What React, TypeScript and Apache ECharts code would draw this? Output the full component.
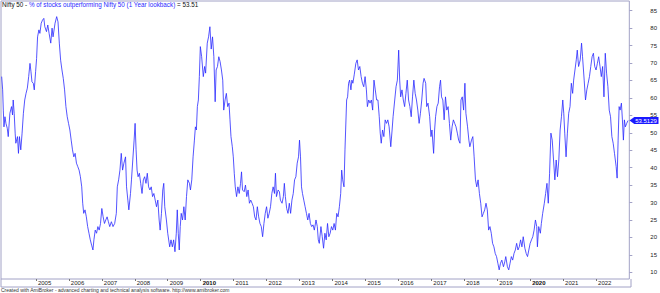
import React, { useEffect, useRef } from "react";
import * as echarts from "echarts";

// decimal-year dates and % of stocks outperforming Nifty 50 (1 year lookback)
const dates: number[] = [
  2003.96, 2003.99, 2004.01, 2004.03, 2004.06, 2004.09, 2004.13, 2004.16, 2004.21, 2004.26,
  2004.29, 2004.31, 2004.34, 2004.37, 2004.39, 2004.44, 2004.47, 2004.5, 2004.54, 2004.58,
  2004.62, 2004.66, 2004.7, 2004.74, 2004.78, 2004.82, 2004.85, 2004.88, 2004.92, 2004.95,
  2004.99, 2005.02, 2005.05, 2005.09, 2005.12, 2005.16, 2005.2, 2005.24, 2005.27, 2005.32,
  2005.36, 2005.4, 2005.45, 2005.49, 2005.52, 2005.58, 2005.63, 2005.67, 2005.71, 2005.75,
  2005.79, 2005.83, 2005.87, 2005.91, 2005.95, 2005.99, 2006.03, 2006.07, 2006.11, 2006.15,
  2006.19, 2006.23, 2006.27, 2006.31, 2006.35, 2006.39, 2006.42, 2006.45, 2006.49, 2006.53,
  2006.57, 2006.61, 2006.65, 2006.69, 2006.73, 2006.76, 2006.8, 2006.84, 2006.88, 2006.92,
  2006.96, 2007.0, 2007.04, 2007.08, 2007.12, 2007.16, 2007.2, 2007.24,
  2007.29, 2007.34, 2007.39, 2007.44, 2007.47, 2007.51, 2007.55, 2007.59, 2007.63, 2007.67,
  2007.72, 2007.75, 2007.79, 2007.82, 2007.87, 2007.9, 2007.94, 2007.98, 2008.01, 2008.04,
  2008.07, 2008.1, 2008.14, 2008.18, 2008.22, 2008.26, 2008.3, 2008.34, 2008.38, 2008.42,
  2008.46, 2008.5, 2008.54, 2008.58, 2008.62, 2008.66, 2008.7, 2008.74, 2008.77, 2008.81,
  2008.85, 2008.88, 2008.91, 2008.96, 2009.0, 2009.06, 2009.1, 2009.14, 2009.18, 2009.22,
  2009.26, 2009.29, 2009.32, 2009.35, 2009.38, 2009.41, 2009.45, 2009.49, 2009.53, 2009.57,
  2009.61, 2009.66, 2009.69, 2009.73, 2009.77, 2009.81, 2009.84, 2009.87, 2009.9, 2009.93,
  2009.96, 2009.99, 2010.03, 2010.08, 2010.12, 2010.15, 2010.2, 2010.24, 2010.28, 2010.32,
  2010.36, 2010.4, 2010.44, 2010.47, 2010.51, 2010.55, 2010.59, 2010.63, 2010.67, 2010.7,
  2010.74, 2010.78, 2010.82, 2010.86, 2010.89, 2010.92, 2010.96, 2010.99, 2011.02, 2011.05,
  2011.09, 2011.13, 2011.17, 2011.21, 2011.24, 2011.27, 2011.32, 2011.36, 2011.4, 2011.44,
  2011.48, 2011.52, 2011.56, 2011.6, 2011.64, 2011.68, 2011.72, 2011.76, 2011.8, 2011.84,
  2011.88, 2011.92, 2011.96, 2012.0, 2012.04, 2012.08, 2012.12, 2012.16, 2012.2, 2012.24,
  2012.27, 2012.3, 2012.35, 2012.39, 2012.42, 2012.47, 2012.51, 2012.54, 2012.57, 2012.61,
  2012.65, 2012.69, 2012.73, 2012.77, 2012.81, 2012.85, 2012.89, 2012.93, 2012.97, 2013.0,
  2013.03, 2013.06, 2013.09, 2013.13, 2013.17, 2013.21, 2013.25, 2013.29, 2013.33, 2013.37,
  2013.41, 2013.45, 2013.5, 2013.54, 2013.57, 2013.6, 2013.65, 2013.69, 2013.73, 2013.77,
  2013.81, 2013.85, 2013.89, 2013.93, 2013.97, 2014.01, 2014.05, 2014.09, 2014.13, 2014.17,
  2014.21, 2014.25, 2014.28, 2014.31, 2014.35, 2014.38, 2014.4, 2014.43, 2014.46, 2014.49,
  2014.52, 2014.56, 2014.59, 2014.62, 2014.66, 2014.71, 2014.75, 2014.79, 2014.83, 2014.87,
  2014.91, 2014.95, 2014.99, 2015.03, 2015.06, 2015.1, 2015.14, 2015.18, 2015.22, 2015.26,
  2015.3, 2015.34, 2015.38, 2015.42, 2015.45, 2015.48, 2015.52, 2015.56, 2015.6, 2015.64,
  2015.68, 2015.72, 2015.77, 2015.81, 2015.84, 2015.89, 2015.93, 2015.97, 2016.01, 2016.04,
  2016.07, 2016.11, 2016.15, 2016.19, 2016.23, 2016.27, 2016.31, 2016.35, 2016.39, 2016.43,
  2016.47, 2016.51, 2016.55, 2016.59, 2016.63, 2016.67, 2016.71, 2016.75, 2016.78, 2016.83,
  2016.86, 2016.9, 2016.95, 2016.99, 2017.02, 2017.07, 2017.1, 2017.13, 2017.17, 2017.21,
  2017.25, 2017.28, 2017.31, 2017.35, 2017.39, 2017.43, 2017.47, 2017.51, 2017.55, 2017.59,
  2017.63, 2017.67, 2017.71, 2017.75, 2017.79, 2017.83, 2017.87, 2017.9, 2017.94, 2017.98,
  2018.02, 2018.05, 2018.1, 2018.14, 2018.17, 2018.22, 2018.26, 2018.3, 2018.34, 2018.38,
  2018.42, 2018.46, 2018.5, 2018.54, 2018.58, 2018.62, 2018.66, 2018.7, 2018.74, 2018.78,
  2018.82, 2018.86, 2018.9, 2018.94, 2018.98, 2019.02, 2019.06, 2019.1, 2019.14, 2019.19,
  2019.23, 2019.26, 2019.31, 2019.35, 2019.39, 2019.43, 2019.47, 2019.51, 2019.55, 2019.59,
  2019.63, 2019.67, 2019.71, 2019.75, 2019.79, 2019.84, 2019.88, 2019.92, 2019.96, 2020.0,
  2020.04, 2020.08, 2020.12, 2020.16, 2020.2, 2020.22, 2020.26, 2020.31, 2020.34, 2020.38,
  2020.43, 2020.47, 2020.51, 2020.55, 2020.59, 2020.63, 2020.67, 2020.71, 2020.75, 2020.79,
  2020.83, 2020.87, 2020.91, 2020.95, 2020.99, 2021.02, 2021.05, 2021.09, 2021.13, 2021.17,
  2021.21, 2021.25, 2021.29, 2021.32, 2021.36, 2021.4, 2021.43, 2021.47, 2021.52, 2021.56,
  2021.59, 2021.64, 2021.68, 2021.72, 2021.76, 2021.8, 2021.84, 2021.88, 2021.92, 2021.96,
  2022.0, 2022.04, 2022.08, 2022.12, 2022.16, 2022.2, 2022.24, 2022.28, 2022.32, 2022.36,
  2022.4, 2022.44, 2022.48, 2022.52, 2022.56, 2022.61, 2022.64, 2022.67, 2022.7, 2022.73,
  2022.77, 2022.8, 2022.83, 2022.86, 2022.89, 2022.93, 2022.97,
];

const values: number[] = [
  66.1, 62.3, 56.5, 51.7, 54.6, 52.7, 51.3, 48.9, 55.6, 57.5,
  55.1, 59.4, 55.6, 49.9, 47.0, 48.9, 44.1, 48.9, 45.1, 49.9,
  55.6, 59.4, 61.3, 62.8, 66.1, 69.9, 67.5, 64.6, 64.2, 62.3,
  67.5, 71.3, 77.5, 79.5, 78.5, 81.4, 82.3, 82.8, 80.4, 79.0,
  80.9, 78.5, 75.7, 80.0, 77.5, 81.4, 83.3, 81.8, 75.7, 70.8,
  68.0, 65.6, 62.3, 57.5, 54.6, 52.7, 50.8, 47.9, 45.1, 43.1,
  44.1, 41.3, 40.3, 39.3, 37.4, 34.5, 29.8, 26.9, 27.9, 25.9,
  23.1, 21.2, 19.3, 17.8, 16.4, 19.3, 22.1, 21.2, 23.1, 22.1,
  24.0, 28.3, 25.9, 24.0, 25.0, 25.9, 24.5, 23.1,
  24.5, 23.1, 24.0, 26.9, 34.5, 36.5, 39.3, 44.1, 39.3, 41.3,
  43.1, 34.5, 30.7, 27.9, 32.6, 36.5, 42.2, 47.9, 52.7, 45.1,
  39.3, 37.4, 38.4, 35.5, 32.6, 36.5, 37.4, 35.5, 38.4, 34.5,
  33.6, 34.5, 31.7, 32.6, 30.7, 28.8, 30.7, 25.0, 22.1, 26.9,
  33.6, 35.5, 28.8, 25.0, 21.2, 17.3, 19.3, 17.3, 19.3, 15.9,
  21.2, 27.9, 21.2, 16.4, 23.1, 26.9, 25.0, 28.8, 25.0, 31.7,
  36.5, 35.5, 33.6, 36.5, 43.1, 47.9, 51.7, 50.8, 57.5, 59.4,
  66.1, 74.7, 71.8, 66.1, 69.0, 67.1, 75.7, 77.5, 80.4, 74.0,
  77.5, 71.8, 58.9, 68.0, 69.0, 71.8, 70.4, 68.0, 65.1, 56.5,
  59.4, 61.3, 57.5, 58.5, 53.7, 48.9, 46.0, 43.1, 38.4, 34.5,
  31.7, 34.5, 32.6, 35.5, 38.8, 33.6, 33.1, 35.0, 31.7, 33.6,
  29.8, 30.7, 29.8, 28.8, 25.9, 25.0, 28.8, 25.9, 24.0, 23.1,
  20.2, 24.0, 26.9, 28.8, 25.5, 26.9, 28.8, 32.6, 34.5, 32.6,
  38.4, 31.7, 33.6, 33.1, 30.7, 29.8, 31.7, 35.5, 31.7, 28.3,
  26.9, 29.8, 26.9, 30.7, 32.6, 36.5, 37.4, 41.3, 43.1, 47.9,
  43.1, 34.5, 32.6, 30.7, 28.8, 26.9, 25.0, 26.9, 24.0, 23.1,
  23.6, 22.1, 25.0, 23.1, 19.3, 18.3, 23.1, 20.2, 16.9, 21.2,
  19.3, 24.0, 20.2, 21.2, 23.1, 22.1, 24.0, 22.1, 26.9, 25.9,
  28.8, 32.6, 39.3, 36.5, 34.5, 45.1, 50.8, 59.4, 60.3, 64.2,
  65.1, 62.3, 65.1, 64.2, 66.6, 69.9, 70.9, 68.0, 69.0, 66.1,
  64.2, 63.2, 66.1, 62.3, 57.5, 59.4, 58.5, 59.4, 56.5, 65.1,
  62.3, 59.4, 59.4, 54.6, 49.9, 47.0, 50.8, 48.9, 53.7, 52.7,
  53.7, 51.7, 46.0, 50.8, 54.6, 59.4, 63.2, 65.1, 73.7, 65.1,
  60.3, 62.3, 59.4, 57.5, 61.3, 65.1, 59.4, 57.5, 54.6, 60.3,
  65.1, 61.3, 59.4, 56.5, 52.7, 55.6, 59.4, 64.2, 65.6, 64.2,
  57.5, 58.5, 54.6, 48.9, 50.8, 44.1, 50.8, 54.6, 57.5, 58.5,
  63.2, 65.1, 60.3, 59.4, 53.7, 60.3, 56.5, 57.5, 52.7, 47.9,
  51.7, 53.7, 52.7, 51.7, 49.9, 47.9, 47.0, 59.4, 60.3, 56.5,
  64.2, 55.6, 51.7, 47.9, 46.0, 47.9, 48.9, 43.1, 36.5, 34.5,
  36.5, 32.6, 29.8, 25.9, 26.9, 27.9, 29.8, 27.9, 22.1, 23.1,
  21.2, 18.3, 17.3, 15.4, 14.5, 12.6, 10.7, 12.6, 13.5, 11.6,
  13.0, 14.5, 11.6, 10.7, 12.6, 14.5, 13.5, 15.4, 16.4, 18.3,
  16.4, 17.3, 19.3, 17.3, 20.2, 16.9, 15.4, 14.5, 16.4, 18.3,
  19.3, 20.2, 22.1, 25.0, 23.1, 17.3, 23.1, 21.2, 24.0, 26.9,
  29.8, 32.6, 35.5, 29.8, 38.4, 49.9, 47.9, 42.2, 36.5, 42.2,
  37.4, 42.2, 50.8, 54.6, 59.4, 55.6, 49.9, 43.1, 49.9, 55.6,
  57.5, 64.2, 61.3, 65.1, 68.0, 70.9, 73.7, 69.0, 70.9, 75.7,
  71.8, 65.1, 59.4, 62.3, 64.2, 66.1, 69.0, 71.8, 72.8, 69.0,
  68.0, 69.9, 71.8, 69.0, 66.1, 69.0, 60.3, 72.8, 67.1, 63.2,
  56.5, 54.6, 48.9, 47.0, 44.1, 40.3, 37.0, 47.9, 57.5, 56.5,
  58.5, 53.7, 47.9, 53.7, 51.7, 52.7, 53.51,
];

const yearTicks: number[] = [
  2005, 2006, 2007, 2008, 2009, 2010, 2011, 2012, 2013, 2014, 2015, 2016, 2017,
  2018, 2019, 2020, 2021, 2022,
];
const boldYears: number[] = [2010, 2020];
const valueTicks: number[] = [10, 15, 20, 25, 30, 35, 40, 45, 50, 55, 60, 65, 70, 75, 80, 85];
const lastValueText = "53.5129";
const titleValue = "53.51";

const FRAME = "#a2a2c6";
const FONT = "'Liberation Sans', Arial, sans-serif";

export default function App() {
  const ref = useRef<HTMLDivElement>(null);

  useEffect(() => {
    if (!ref.current) return;
    const chart = echarts.init(ref.current, undefined, { renderer: "svg" });
    const data = dates.map((d, i) => [d, values[i]]);
    const last = data[data.length - 1];

    chart.setOption({
      animation: false,
      backgroundColor: "#ffffff",
      textStyle: { fontFamily: FONT },
      title: {
        left: 2,
        top: 1,
        padding: 0,
        text: `{k|Nifty 50 - }{b|% of stocks outperforming Nifty 50 (1 Year lookback)}{k| = ${titleValue}}`,
        textStyle: {
          fontWeight: "normal",
          rich: {
            k: { fontSize: 6.3, color: "#111111", fontWeight: "normal", fontFamily: FONT },
            b: { fontSize: 6.3, color: "#2a2aff", fontWeight: "normal", fontFamily: FONT },
          },
        },
      },
      grid: {
        left: 1,
        right: 29,
        top: 1,
        bottom: 14,
        show: true,
        borderColor: FRAME,
        borderWidth: 1,
        backgroundColor: "transparent",
      },
      xAxis: {
        type: "value",
        min: 2003.94,
        max: 2023.01,
        axisLine: { show: false },
        splitLine: { show: false },
        axisTick: {
          show: true,
          length: 2,
          customValues: yearTicks,
          lineStyle: { color: "#777777", width: 1 },
        },
        axisLabel: {
          customValues: yearTicks,
          margin: 1,
          align: "left",
          padding: [0, 0, 0, 2],
          formatter: (v: number) =>
            boldYears.includes(v) ? `{b|${v}}` : `{n|${v}}`,
          rich: {
            n: { fontSize: 6, color: "#222222", fontFamily: FONT },
            b: { fontSize: 6, color: "#111111", fontWeight: "bold", fontFamily: FONT },
          },
        },
      },
      yAxis: {
        type: "value",
        position: "right",
        min: 8.08,
        max: 87.78,
        axisLine: { show: false },
        splitLine: { show: false },
        axisTick: {
          show: true,
          length: 3,
          customValues: valueTicks,
          lineStyle: { color: FRAME },
        },
        axisLabel: {
          customValues: valueTicks,
          margin: 21,
          fontSize: 6,
          color: "#222222",
          fontFamily: FONT,
        },
      },
      graphic: [
        {
          type: "polyline",
          silent: true,
          shape: { points: [[1, 279], [1, 287], [631, 287], [631, 279]] },
          style: { stroke: FRAME, fill: null, lineWidth: 1 },
        },
        {
          type: "text",
          left: 1,
          top: 287,
          silent: true,
          style: {
            text: "Created with AmiBroker - advanced charting and technical analysis software. http://www.amibroker.com",
            fontSize: 5,
            fill: "#333333",
            fontFamily: FONT,
          },
        },
      ],
      series: [
        {
          type: "line",
          data,
          showSymbol: false,
          symbol: "none",
          clip: false,
          lineStyle: { color: "#2a2aff", width: 0.8 },
          markPoint: {
            silent: true,
            data: [
              {
                coord: last,
                symbol: "path://M0,5 L5,0 L30,0 L30,10 L5,10 Z",
                symbolSize: [29, 7],
                symbolKeepAspect: false,
                symbolOffset: [16, 0],
                itemStyle: { color: "#1a1aff" },
                label: {
                  show: true,
                  position: "inside",
                  offset: [2, 0],
                  formatter: lastValueText,
                  color: "#ffffff",
                  fontSize: 6,
                  fontFamily: FONT,
                },
              },
            ],
          },
        },
      ],
    });

    return () => chart.dispose();
  }, []);

  return <div ref={ref} style={{ width: 660, height: 293, position: "absolute", left: 0, top: 0 }} />;
}
